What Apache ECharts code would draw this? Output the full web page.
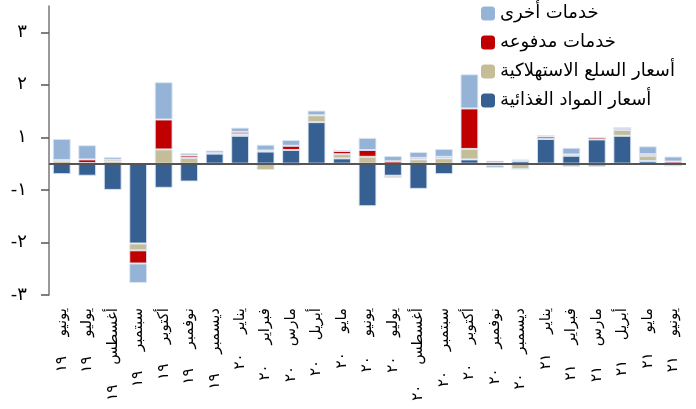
<!DOCTYPE html>
<html>
<head>
<meta charset="utf-8">
<script src="https://cdn.jsdelivr.net/npm/echarts@6/dist/echarts.min.js"></script>
<style>
html,body{margin:0;padding:0;background:#fff;}
#chart{width:696px;height:409px;}
</style>
</head>
<body>
<div id="chart"></div>
<script>
const months = ['يونيو','يوليو','أغسطس','سبتمبر','أكتوبر','نوفمبر','ديسمبر',
  'يناير','فبراير','مارس','أبريل','مايو','يونيو','يوليو','أغسطس','سبتمبر','أكتوبر','نوفمبر','ديسمبر',
  'يناير','فبراير','مارس','أبريل','مايو','يونيو'];
const years = ['١٩','١٩','١٩','١٩','١٩','١٩','١٩',
  '٢٠','٢٠','٢٠','٢٠','٢٠','٢٠','٢٠','٢٠','٢٠','٢٠','٢٠','٢٠',
  '٢١','٢١','٢١','٢١','٢١','٢١'];
const seriesNames = ['أسعار المواد الغذائية','أسعار السلع الاستهلاكية','خدمات مدفوعه','خدمات أخرى'];
const foodPrices   = [-0.20,-0.23,-0.50,-1.52,-0.46,-0.34,0.19,0.53,0.23,0.26,0.79,0.10,-0.81,-0.23,-0.48,-0.20,0.08,-0.03,0.05,0.47,0.15,0.46,0.53,0.05,-0.04];
const goodsPrices  = [0.05,0.01,0.045,-0.13,0.27,0.11,-0.03,0.03,-0.12,-0.04,0.13,0.08,0.13,-0.04,0.08,0.10,0.20,0.02,-0.10,0.00,-0.06,0.00,0.11,0.10,0.00];
const paidServices = [0.02,0.07,0.03,-0.25,0.57,0.045,0.01,0.045,0.02,0.08,-0.01,0.06,0.13,0.045,0.03,0.03,0.77,0.035,0.00,0.045,0.025,0.04,0.04,0.03,0.04];
const otherServices= [0.40,0.27,0.05,-0.37,0.71,0.045,0.05,0.08,0.11,0.11,0.09,0.01,0.23,0.10,0.11,0.15,0.65,-0.05,0.03,0.025,0.127,-0.06,0.00,0.15,0.095];
const yTickValues = [-2.5,-1.5,-0.5,0.5,1.5,2.5];
const colors = ['#376092','#C4BD97','#C00000','#95B3D7'];

const categories = months.map((m, i) => m + '\u2003 ' + years[i]);

const arabicDigits = '٠١٢٣٤٥٦٧٨٩';
function toArabic(n){
  const r = n < 0 ? -Math.round(-n + 1e-9) : Math.round(n + 1e-9);
  const s = String(Math.abs(r)).split('').map(d => arabicDigits[+d]).join('');
  return (r < 0 ? '-' : '') + s;
}

const dataSets = [foodPrices, goodsPrices, paidServices, otherServices];
const series = dataSets.map((d, i) => ({
  name: seriesNames[i],
  type: 'bar',
  stack: 'total',
  barWidth: '70%',
  data: d,
  itemStyle: { color: colors[i], borderColor: 'rgba(220,230,242,0.9)', borderWidth: 1 },
  emphasis: { disabled: true },
  markLine: i === 0 ? {
    silent: true, symbol: 'none', label: { show: false },
    lineStyle: { color: '#555', width: 2, type: 'solid' },
    data: [{ yAxis: 0 }], z: 10
  } : undefined
}));

const chart = echarts.init(document.getElementById('chart'));
chart.setOption({
  animation: false,
  color: colors,
  textStyle: { fontFamily: 'DejaVu Sans' },
  legend: {
    orient: 'vertical',
    left: 481, top: 4.5, padding: 0,
    itemWidth: 14, itemHeight: 14, itemGap: 11,
    data: ['خدمات أخرى','خدمات مدفوعه','أسعار السلع الاستهلاكية','أسعار المواد الغذائية'],
    textStyle: { fontSize: 18, color: '#000', fontFamily: 'DejaVu Sans' },
    itemStyle: { borderWidth: 0 }
  },
  grid: { left: 49, right: 10, top: 6, bottom: 114, containLabel: false },
  xAxis: {
    type: 'category',
    data: categories,
    position: 'bottom',
    axisLine: { show: false, onZero: false },
    axisTick: { show: false },
    axisLabel: { rotate: 90, fontSize: 15, color: '#000', margin: 13, interval: 0, fontFamily: 'DejaVu Sans' }
  },
  yAxis: {
    type: 'value',
    min: -2.5, max: 3,
    axisLine: { show: true, lineStyle: { color: '#777', width: 1.5 } },
    axisTick: { show: true, length: 8, customValues: yTickValues, lineStyle: { color: '#555', width: 1.5 } },
    axisLabel: { customValues: yTickValues, formatter: v => toArabic(v), fontSize: 18, color: '#000', margin: 22, fontFamily: 'DejaVu Sans' },
    splitLine: { show: false }
  },
  series: series
});
</script>
</body>
</html>
